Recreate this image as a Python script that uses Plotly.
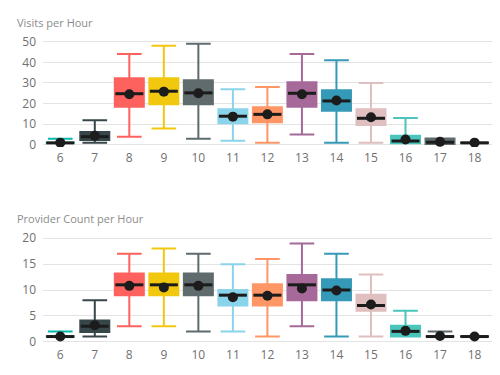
import plotly.graph_objects as go

hours = ["6", "7", "8", "9", "10", "11", "12", "13", "14", "15", "16", "17", "18"]
colors = ["#01B8AA", "#374649", "#FD625E", "#F2C80F", "#5F6B6D", "#8AD4EB", "#FE9666",
          "#A66999", "#3599B8", "#DFBFBF", "#4AC5BB", "#5F6B6D", "#374649"]

# Visits per Hour
v_low = [1, 1, 4, 8, 3, 2, 1, 5, 1, 1, 1, 1, 1]
v_q1 = [1, 2.4, 18.5, 19.7, 19.7, 10.5, 11, 18.5, 16.6, 9.7, 0.8, 0.5, 1]
v_med = [1, 4, 24.8, 26, 25.2, 13.9, 14.8, 25, 21.3, 12.9, 1.9, 1.3, 1]
v_q3 = [1, 6.3, 32.3, 32.3, 31.3, 17.3, 18.2, 30.3, 26.5, 17.3, 4.4, 3.1, 1]
v_high = [3, 12, 44, 48, 49, 27, 28, 44, 41, 30, 13, 3.1, 1]
v_mean = [1.1, 4.4, 24.5, 25.8, 25, 13.7, 14.8, 24.5, 21.5, 13.4, 2.6, 1.5, 1.1]

# Provider Count per Hour
p_low = [1, 1, 3, 3, 2, 2, 1, 3, 1, 1, 1, 1, 1]
p_q1 = [1, 1.9, 9, 9, 9, 7, 7, 8, 8, 6, 1, 1, 1]
p_med = [1, 3, 11, 11, 11, 9, 9, 11, 10, 7, 2, 1, 1]
p_q3 = [1, 4.1, 13.2, 13.2, 13.2, 10, 11.1, 12.9, 12.1, 9.1, 3.1, 1, 1]
p_high = [2, 8, 17, 18, 17, 15, 16, 19, 17, 13, 6, 2, 1]
p_mean = [1, 3.2, 10.8, 10.5, 10.8, 8.6, 8.9, 10.3, 9.9, 7.2, 2.1, 1.1, 1]

fig = go.Figure()

def add_chart(low, q1, med, q3, high, mean, xa, ya):
    for i, h in enumerate(hours):
        fig.add_trace(go.Box(
            x=[h], q1=[q1[i]], median=[med[i]], q3=[q3[i]],
            lowerfence=[low[i]], upperfence=[high[i]],
            fillcolor=colors[i], line=dict(color=colors[i], width=2),
            width=0.84, whiskerwidth=0.85, boxpoints=False,
            xaxis=xa, yaxis=ya, showlegend=False, hoverinfo="skip"))
    fig.add_trace(go.Scatter(
        x=hours, y=med, mode="markers",
        marker=dict(symbol="line-ew", size=20, line=dict(color="#1c1c1c", width=3)),
        xaxis=xa, yaxis=ya, showlegend=False, hoverinfo="skip"))
    fig.add_trace(go.Scatter(
        x=hours, y=mean, mode="markers",
        marker=dict(symbol="circle", size=10, color="#1c1c1c"),
        xaxis=xa, yaxis=ya, showlegend=False, hoverinfo="skip"))

add_chart(v_low, v_q1, v_med, v_q3, v_high, v_mean, "x", "y")
add_chart(p_low, p_q1, p_med, p_q3, p_high, p_mean, "x2", "y2")

tickfont = dict(family="Open Sans, sans-serif", size=12, color="#707070")
xcommon = dict(type="category", categoryorder="array", categoryarray=hours,
               range=[-0.5, 12.65], showgrid=False, zeroline=False, showline=False,
               ticks="", ticklen=0, ticklabelstandoff=2, tickfont=tickfont, automargin=False)
ycommon = dict(showgrid=True, gridcolor="#e3e3e3", gridwidth=1, zeroline=False,
               showline=False, ticks="", ticklen=0, ticklabelstandoff=6, tickfont=tickfont,
               automargin=False)

# page body has an 8px default margin; figure is sized/positioned to compensate
OFF = 8
W, H = 500 - OFF, 375 - OFF
L, R = 43 - OFF, 3
fig.update_layout(
    width=W, height=H,
    margin=dict(l=L, r=R, t=0, b=0, autoexpand=False),
    paper_bgcolor="white", plot_bgcolor="white",
    boxmode="overlay",
    xaxis=dict(**xcommon, anchor="y"),
    yaxis=dict(**ycommon, domain=[(H - (147 - OFF)) / H, (H - (40 - OFF)) / H], range=[-1, 50.8],
               tickvals=[0, 10, 20, 30, 40, 50], anchor="x"),
    xaxis2=dict(**xcommon, anchor="y2"),
    yaxis2=dict(**ycommon, domain=[(H - (344 - OFF)) / H, (H - (236 - OFF)) / H],
                range=[-0.44, 20.44], tickvals=[0, 5, 10, 15, 20], anchor="x2"),
)
pw = W - L - R
titles = [("Visits per Hour", 15, 22), ("Provider Count per Hour", 15, 219)]
for txt, px, py in titles:
    fig.add_annotation(text=txt, x=(px - OFF - L) / pw, y=(H - (py - OFF)) / H,
                       xref="paper", yref="paper",
                       showarrow=False, xanchor="left", yanchor="middle",
                       font=dict(family="Open Sans, sans-serif", size=11, color="#8c8c8c"))

fig.write_html("out.html")
